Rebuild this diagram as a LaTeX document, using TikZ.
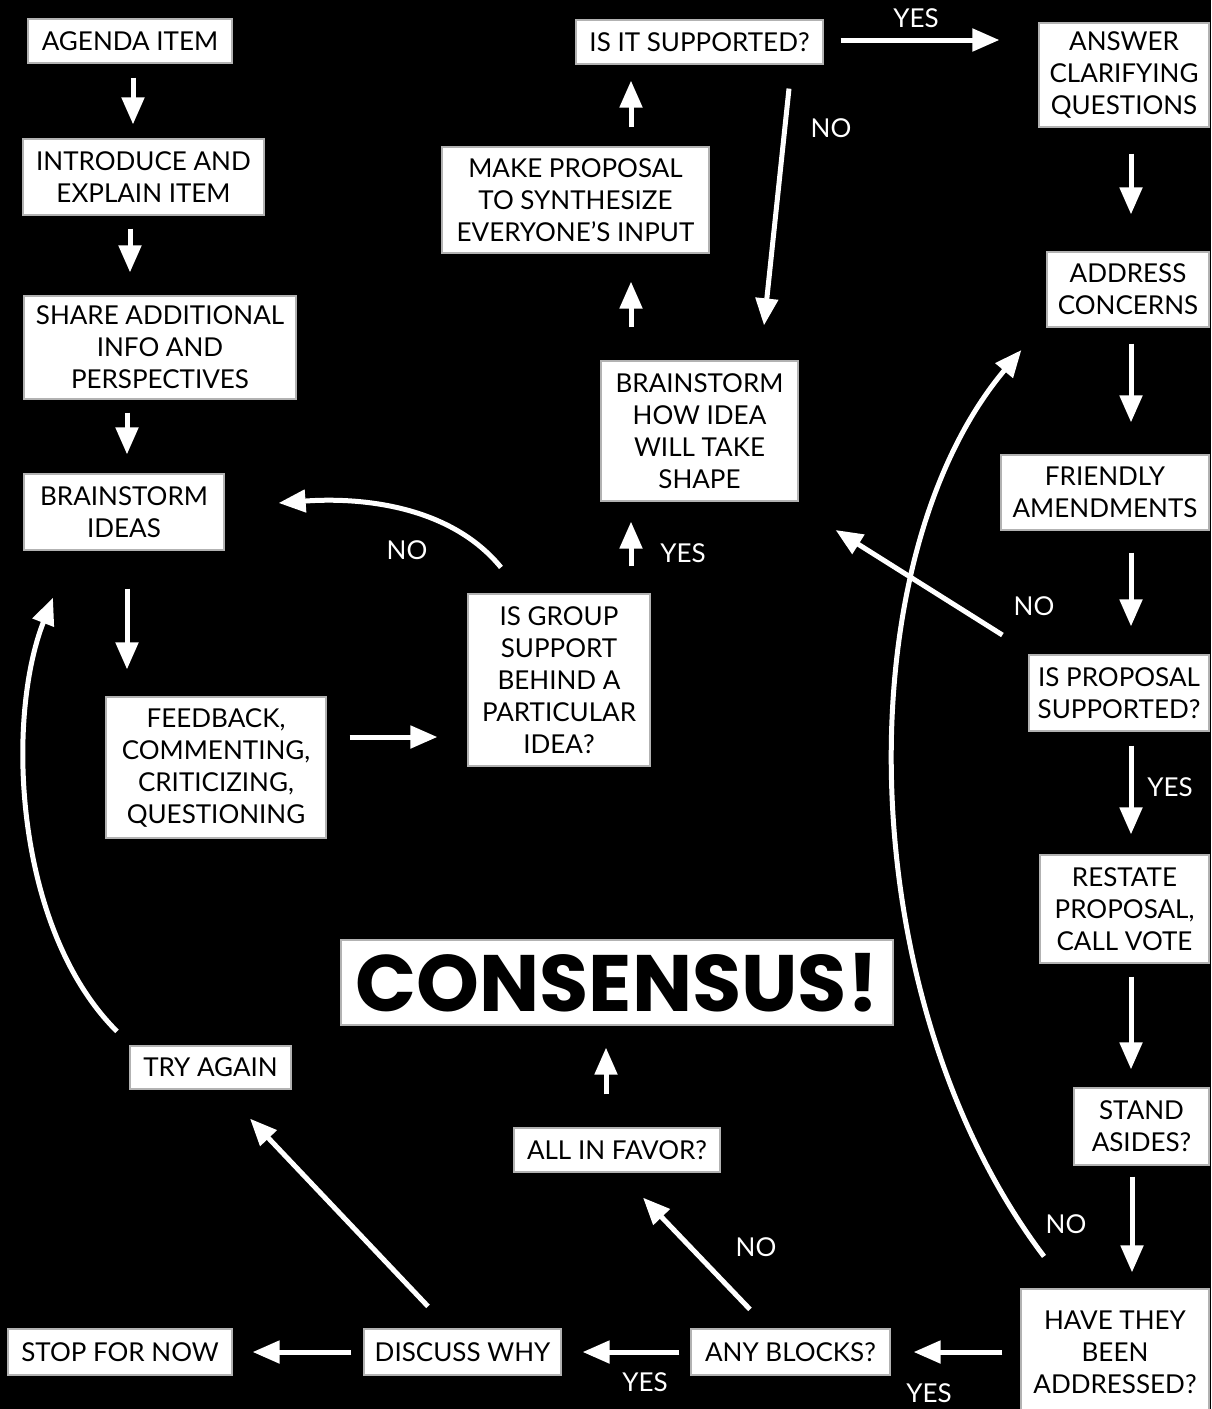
\documentclass[tikz,border=0pt]{standalone}
\usepackage{fontspec}
\setmainfont{Lato}
\newfontfamily\bigfont{Poppins}
\usetikzlibrary{arrows.meta}
\begin{document}
\begin{tikzpicture}[x=1pt,y=-1pt,
  box/.style={draw=gray!60, line width=1.2pt, fill=white, text=black, align=center, inner sep=0pt, font=\fontsize{26}{32}\selectfont},
  lbl/.style={text=white, font=\fontsize{26}{32}\selectfont, inner sep=0pt},
  arr/.style={draw=white, line width=5pt, -{Triangle[width=22pt,length=27pt]}}]
\fill[black] (0,0) rectangle (1211,1409);
\useasboundingbox (0,0) rectangle (1211,1409);

% boxes
\node[box, minimum width=204pt, minimum height=44pt] (agenda) at (130,41) {AGENDA ITEM};
\node[box, minimum width=241pt, minimum height=76pt] (intro) at (143.5,177) {INTRODUCE AND\\EXPLAIN ITEM};
\node[box, minimum width=272pt, minimum height=103pt] (share) at (160,347.5) {SHARE ADDITIONAL\\INFO AND\\PERSPECTIVES};
\node[box, minimum width=200pt, minimum height=76pt] (bideas) at (124,512) {BRAINSTORM\\IDEAS};
\node[box, minimum width=220pt, minimum height=141pt] (feedback) at (216,767.5) {FEEDBACK,\\COMMENTING,\\CRITICIZING,\\QUESTIONING};
\node[box, minimum width=182pt, minimum height=172pt] (group) at (559,680) {IS GROUP\\SUPPORT\\BEHIND A\\PARTICULAR\\IDEA?};
\node[box, minimum width=197pt, minimum height=140pt] (bhow) at (699.5,431) {BRAINSTORM\\HOW IDEA\\WILL TAKE\\SHAPE};
\node[box, minimum width=267pt, minimum height=106pt] (makeprop) at (575.5,200) {MAKE PROPOSAL\\TO SYNTHESIZE\\EVERYONE’S INPUT};
\node[box, minimum width=247pt, minimum height=44pt] (issupp) at (699.5,42) {IS IT SUPPORTED?};
\node[box, minimum width=170pt, minimum height=104pt] (answer) at (1124,75) {ANSWER\\CLARIFYING\\QUESTIONS};
\node[box, minimum width=162pt, minimum height=75pt] (address) at (1128,289.5) {ADDRESS\\CONCERNS};
\node[box, minimum width=208pt, minimum height=75pt] (friendly) at (1105,492.5) {FRIENDLY\\AMENDMENTS};
\node[box, minimum width=180pt, minimum height=76pt] (propsupp) at (1119,693) {IS PROPOSAL\\SUPPORTED?};
\node[box, minimum width=169pt, minimum height=108pt] (restate) at (1124.5,909) {RESTATE\\PROPOSAL,\\CALL VOTE};
\node[box, minimum width=135pt, minimum height=77pt] (stand) at (1141.5,1126.5) {STAND\\ASIDES?};
\node[box, minimum width=188pt, minimum height=126pt] (havethey) at (1115,1352) {HAVE THEY\\BEEN\\ADDRESSED?};
\node[box, minimum width=199pt, minimum height=46pt] (anyblocks) at (790.5,1352) {ANY BLOCKS?};
\node[box, minimum width=197pt, minimum height=46pt] (discuss) at (462.5,1352) {DISCUSS WHY};
\node[box, minimum width=224pt, minimum height=46pt] (stop) at (120,1352) {STOP FOR NOW};
\node[box, minimum width=161pt, minimum height=43pt] (tryagain) at (210.5,1067.5) {TRY AGAIN};
\node[box, minimum width=206pt, minimum height=44pt] (allfavor) at (617,1150) {ALL IN FAVOR?};
\node[box, minimum width=552pt, minimum height=85pt, font=\bigfont\bfseries\fontsize{80}{80}\selectfont] (consensus) at (617,982.5) {CONSENSUS!};

% labels
\node[lbl] (l1) at (916,18) {YES};
\node[lbl] (l2) at (831,128) {NO};
\node[lbl] (l3) at (407,550) {NO};
\node[lbl] (l4) at (683,553) {YES};
\node[lbl] (l5) at (1034,606) {NO};
\node[lbl] (l6) at (1170,787) {YES};
\node[lbl] (l7) at (1066,1224) {NO};
\node[lbl] (l8) at (756,1247) {NO};
\node[lbl] (l9) at (645,1382) {YES};
\node[lbl] (l10) at (929,1393) {YES};

% connectors
\draw[arr] ([shift={(3,14)}]agenda.south) -- ([shift={(-10.5,-14)}]intro.north);
\draw[arr] ([shift={(-13.5,13)}]intro.south) -- ([shift={(-30,-23)}]share.north);
\draw[arr] ([shift={(-33,13)}]share.south) -- ([shift={(3,-19)}]bideas.north);
\draw[arr] ([shift={(3,38)}]bideas.south) -- ([shift={(-89,-27)}]feedback.north);
\draw[arr] ([shift={(23,-30.5)}]feedback.east) -- ([shift={(-30,57)}]group.west);
\draw[arr] ([shift={(-58,-26)}]group.north) .. controls (450,505) and (360,497) .. ([shift={(54,-9)}]bideas.east);
\draw[arr] ([shift={(72,-27)}]group.north) -- ([shift={(-68.5,20)}]bhow.south);
\draw[arr] ([shift={(-68.5,-33)}]bhow.north) -- ([shift={(55.5,28)}]makeprop.south);
\draw[arr] ([shift={(55.5,-19)}]makeprop.north) -- ([shift={(-68.5,16)}]issupp.south);
\draw[arr] ([shift={(17,-2)}]issupp.east) -- ([shift={(-39,-35)}]answer.west);
\draw[arr] ([shift={(89.5,24)}]issupp.south) -- ([shift={(64.5,-35)}]bhow.north);
\draw[arr] ([shift={(7,26)}]answer.south) -- ([shift={(3,-37)}]address.north);
\draw[arr] ([shift={(3,16)}]address.south) -- ([shift={(26,-32)}]friendly.north);
\draw[arr] ([shift={(26,22)}]friendly.south) -- ([shift={(12,-28)}]propsupp.north);
\draw[arr] ([shift={(-26,-58)}]propsupp.west) -- ([shift={(37,99)}]bhow.east);
\draw[arr] ([shift={(12,14)}]propsupp.south) -- ([shift={(6.5,-20)}]restate.north);
\draw[arr] ([shift={(6.5,13)}]restate.south) -- ([shift={(-10.5,-18)}]stand.north);
\draw[arr] ([shift={(-9.5,11)}]stand.south) -- ([shift={(17,-16)}]havethey.north);
\draw[arr] ([shift={(-71,-32)}]havethey.north) .. controls (850,1000) and (845,560) .. ([shift={(-25,60.5)}]address.west);
\draw[arr] ([shift={(-18,0)}]havethey.west) -- ([shift={(23,0)}]anyblocks.east);
\draw[arr] ([shift={(-11,0)}]anyblocks.west) -- ([shift={(21,0)}]discuss.east);
\draw[arr] ([shift={(-40.5,-19)}]anyblocks.north) -- ([shift={(26,25)}]allfavor.south);
\draw[arr] ([shift={(-11,-33)}]allfavor.north) -- ([shift={(-11,22)}]consensus.south);
\draw[arr] ([shift={(-12,0)}]discuss.west) -- ([shift={(20,0)}]stop.east);
\draw[arr] ([shift={(-34.5,-22)}]discuss.north) -- ([shift={(39.5,29)}]tryagain.south);
\draw[arr] ([shift={(-93.5,-14)}]tryagain.north) .. controls (15,930) and (5,720) .. ([shift={(-71,47)}]bideas.south);
\end{tikzpicture}
\end{document}
